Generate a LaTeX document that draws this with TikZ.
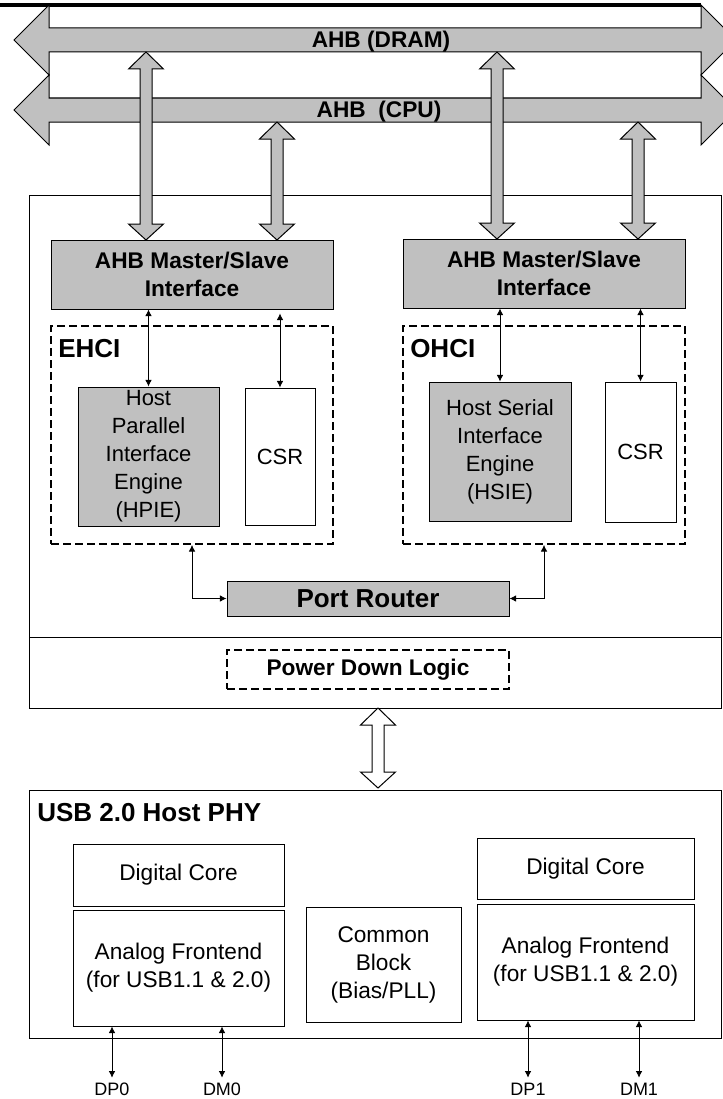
\documentclass[tikz,border=0pt]{standalone}
\usepackage{fontspec}
\setmainfont{Liberation Sans}
\usetikzlibrary{arrows.meta}

\definecolor{busgray}{HTML}{C0C0C0}

\newcommand{\busarrow}[4]{%
  \draw[blk, fill=#4] (#1,#2) -- ({#1+17.5},{#2+17}) -- ({#1+6},{#2+17}) -- ({#1+6},{#3-16})
    -- ({#1+17.5},{#3-16}) -- (#1,#3) -- ({#1-17.5},{#3-16}) -- ({#1-6},{#3-16})
    -- ({#1-6},{#2+17}) -- ({#1-17.5},{#2+17}) -- cycle;}

\begin{document}
\begin{tikzpicture}[x=0.75pt, y=-0.75pt,
  sz/.style 2 args={minimum width=#1*0.75pt, minimum height=#2*0.75pt},
  box/.style={draw, line width=0.75pt, inner sep=0pt, align=center, font=\fontsize{16.5pt}{21pt}\selectfont},
  grey box/.style={box, fill=busgray},
  dash box/.style={draw, line width=1.4pt, dash pattern=on 6pt off 3pt, inner sep=0pt, align=center},
  blk/.style={line width=0.75pt},
  btxt/.style={font=\fontsize{17pt}{21pt}\selectfont\bfseries, inner sep=0pt},
  ttl/.style={font=\fontsize{19.5pt}{23pt}\selectfont\bfseries, inner sep=0pt, anchor=west},
  pin/.style={font=\fontsize{13.5pt}{16pt}\selectfont, inner sep=0pt, anchor=north},
  link/.style={{Latex[length=5pt,width=5pt]}-{Latex[length=5pt,width=5pt]}, line width=0.6pt}]
  \useasboundingbox (0,0) rectangle (723,1099);
  \clip (0,0) rectangle (723,1099);

  % controller
  \node[box, sz={692}{513}] (ctrl) at (375,451.5) {};
  \draw[blk] (29,637) -- (721,637);
  \node[grey box, btxt, sz={282}{69}] (msL) at (192,274.5) {AHB Master/Slave\\Interface};
  \node[grey box, btxt, sz={282}{69}] (msR) at (544,273.5) {AHB Master/Slave\\Interface};
  \node[dash box, sz={282}{218}] (ehci) at (192,435) {};
  \node[dash box, sz={282}{218}] (ohci) at (544,435) {};
  \node[ttl] at (58,349) {EHCI};
  \node[ttl] at (410,349) {OHCI};
  \node[grey box, sz={141}{139}] (hpie) at (148.5,456.5) {Host\\Parallel\\Interface\\Engine\\(HPIE)};
  \node[box, sz={70}{137}] (csrL) at (280,456.5) {CSR};
  \node[grey box, sz={142}{139}] (hsie) at (500,451.5) {Host Serial\\Interface\\Engine\\(HSIE)};
  \node[box, sz={71}{140}] (csrR) at (640.5,452) {CSR};
  \node[grey box, sz={282}{35}, font=\fontsize{19.5pt}{22pt}\selectfont\bfseries] (router) at (368,598.5) {Port Router};
  \node[dash box, btxt, sz={282}{39}] (pdl) at (368,669.5) {Power Down Logic};

  \draw[link] (hpie.north) -- (hpie.north |- msL.south);
  \draw[link] (csrL.north) -- ([yshift=-3pt]csrL.north |- msL.south);
  \draw[link] (hsie.north) -- (hsie.north |- msR.south);
  \draw[link] (csrR.north) -- (csrR.north |- msR.south);
  \draw[link] (ehci.south) |- (router.west);
  \draw[link] (ohci.south) |- (router.east);

  % buses
  \draw[line width=3pt] (0,5) -- (701,5);
  \draw[blk, fill=busgray] (14,40) -- (49,5) -- (49,28) -- (701,28) -- (701,5) -- (736,40)
    -- (701,75) -- (701,52) -- (49,52) -- (49,75) -- cycle;
  \draw[blk, fill=busgray] (14,110) -- (49,75) -- (49,98) -- (701,98) -- (701,75) -- (736,110)
    -- (701,145) -- (701,122) -- (49,122) -- (49,145) -- cycle;
  \node[btxt] (dram) at (381,42) {AHB (DRAM)};
  \node[btxt] (cpu) at (379,112) {AHB\ \ (CPU)};
  \busarrow{146}{52}{240}{busgray}
  \busarrow{277}{122}{240}{busgray}
  \busarrow{497}{52}{239}{busgray}
  \busarrow{638}{122}{239}{busgray}
  \busarrow{378}{708}{788}{white}

  % phy
  \node[box, sz={692}{248}] (phy) at (375,914) {};
  \node[ttl, font=\fontsize{19.5pt}{23pt}\selectfont\bfseries] at (37,813) {USB 2.0 Host PHY};
  \node[box, sz={211}{62}, font=\fontsize{17pt}{21pt}\selectfont] (dcL) at (178.5,875) {Digital Core};
  \node[box, sz={211}{116}, font=\fontsize{17pt}{21pt}\selectfont] (afL) at (178.5,968) {Analog Frontend\\(for USB1.1 \& 2.0)};
  \node[box, sz={155}{115}, font=\fontsize{17pt}{21pt}\selectfont] (cmn) at (383.5,964.5) {Common\\Block\\(Bias/PLL)};
  \node[box, sz={217}{61}, font=\fontsize{17pt}{21pt}\selectfont] (dcR) at (585.5,868.5) {Digital Core};
  \node[box, sz={217}{116}, font=\fontsize{17pt}{21pt}\selectfont] (afR) at (585.5,962) {Analog Frontend\\(for USB1.1 \& 2.0)};

  \node[pin] (dp0) at (112,1083) {DP0};
  \node[pin] (dm0) at (222,1083) {DM0};
  \node[pin] (dp1) at (528,1083) {DP1};
  \node[pin] (dm1) at (639,1083) {DM1};
  \draw[link] (afL.south -| dp0) -- ([yshift=4pt]dp0.north);
  \draw[link] (afL.south -| dm0) -- ([yshift=4pt]dm0.north);
  \draw[link] (afR.south -| dp1) -- ([yshift=4pt]dp1.north);
  \draw[link] (afR.south -| dm1) -- ([yshift=4pt]dm1.north);
\end{tikzpicture}
\end{document}
